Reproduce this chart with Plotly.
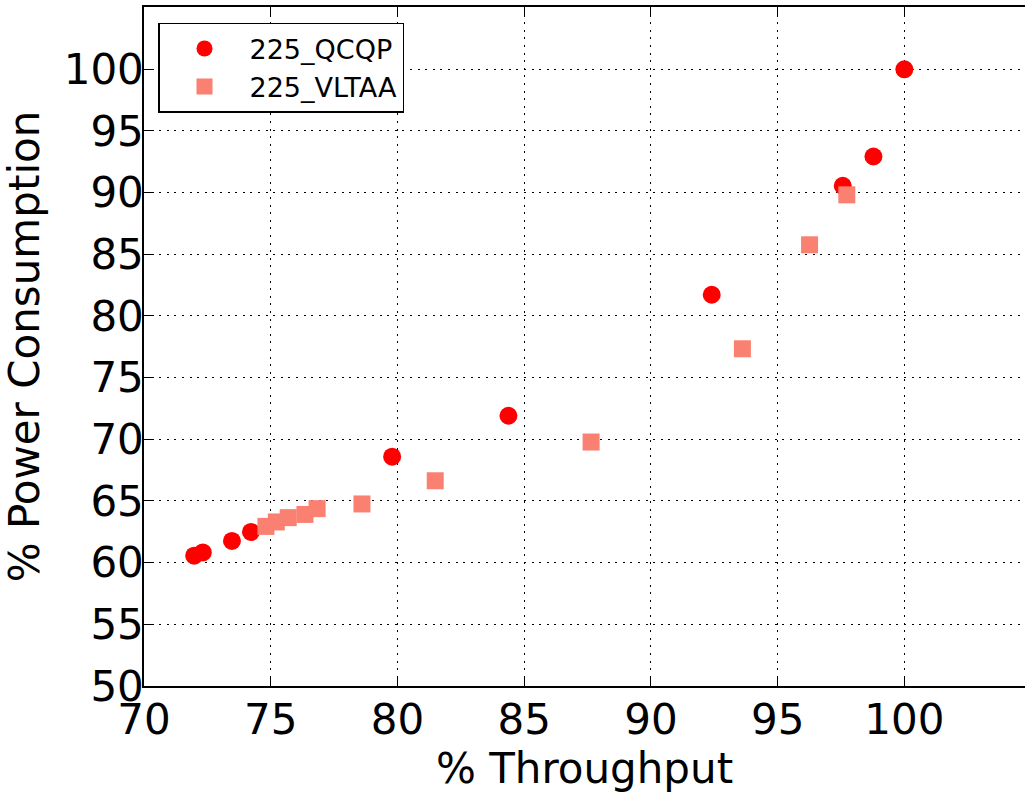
import plotly.graph_objects as go

# QCQP series (% throughput, % power consumption)
qcqp_x = [71.98, 72.32, 73.47, 74.22, 79.79, 84.38, 92.40, 97.57, 98.78, 100.0]
qcqp_y = [60.57, 60.83, 61.76, 62.49, 68.59, 71.91, 81.72, 90.55, 92.93, 100.0]

# VLTAA series
vltaa_x = [74.81, 75.22, 75.69, 76.35, 76.83, 78.60, 81.49, 87.64, 93.61, 96.26, 97.73]
vltaa_y = [62.94, 63.30, 63.65, 63.91, 64.38, 64.76, 66.64, 69.78, 77.34, 85.77, 89.82]

x_ticks = [70, 75, 80, 85, 90, 95, 100]
y_ticks = [50, 55, 60, 65, 70, 75, 80, 85, 90, 95, 100]

FONT = "DejaVu Sans"

fig = go.Figure()
fig.add_trace(go.Scatter(
    x=qcqp_x, y=qcqp_y, mode="markers", name="225_QCQP",
    marker=dict(symbol="circle", size=18, color="#FF0000", line=dict(width=0)),
))
fig.add_trace(go.Scatter(
    x=vltaa_x, y=vltaa_y, mode="markers", name="225_VLTAA",
    marker=dict(symbol="square", size=17, color="#FA8072", line=dict(width=0)),
))

fig.update_layout(
    width=1025, height=793,
    margin=dict(l=144, r=0, t=7, b=106.5),
    paper_bgcolor="white", plot_bgcolor="white",
    font=dict(family=FONT, color="black"),
    showlegend=True,
    legend=dict(
        x=0.0159, y=0.9765, xanchor="left", yanchor="top",
        bgcolor="white", bordercolor="black", borderwidth=1.5,
        font=dict(family=FONT, size=27, color="black"),
        itemwidth=80,
    ),
    xaxis=dict(
        range=[70, 104.76], tickvals=x_ticks, ticktext=[str(v) for v in x_ticks],
        showgrid=True, gridcolor="black", gridwidth=1, griddash="2px,5.6px",
        showline=True, linecolor="black", linewidth=1.5, mirror="ticks",
        ticks="inside", ticklen=8, tickwidth=1, tickcolor="black",
        tickfont=dict(family=FONT, size=42, color="black"),
        ticklabelstandoff=-4,
        zeroline=False,
        title=dict(text="% Throughput", font=dict(family=FONT, size=42, color="black"), standoff=8),
        automargin=False,
    ),
    yaxis=dict(
        range=[50, 105.05], tickvals=y_ticks, ticktext=[str(v) for v in y_ticks],
        showgrid=True, gridcolor="black", gridwidth=1, griddash="2px,5.6px",
        showline=True, linecolor="black", linewidth=1.5, mirror=False,
        ticks="inside", ticklen=8, tickwidth=1, tickcolor="black",
        tickfont=dict(family=FONT, size=42, color="black"),
        ticklabelstandoff=-10,
        zeroline=False,
        title=dict(text="% Power Consumption", font=dict(family=FONT, size=42, color="black"), standoff=14),
        automargin=False,
    ),
)

fig.write_html("out.html")
